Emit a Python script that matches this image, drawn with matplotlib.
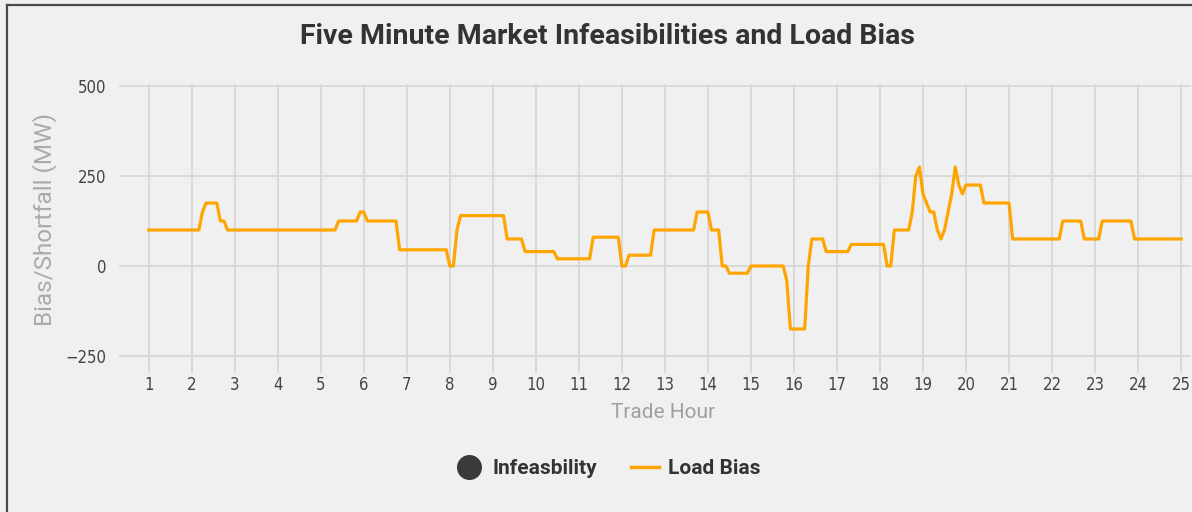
import matplotlib
matplotlib.use("Agg")
import matplotlib.pyplot as plt
from matplotlib.lines import Line2D

# Load bias vertices (trade hour, MW) at 5-minute steps
hours = [1.0, 2.167, 2.25, 2.333, 2.583, 2.667, 2.75, 2.833, 5.333, 5.417,
         5.833, 5.917, 6.0, 6.083, 6.75, 6.833, 7.917, 8.0, 8.083, 8.167,
         8.25, 9.25, 9.333, 9.667, 9.75, 10.417, 10.5, 11.25, 11.333, 11.917,
         12.0, 12.083, 12.167, 12.667, 12.75, 13.667, 13.75, 14.0, 14.083, 14.25,
         14.333, 14.417, 14.5, 14.917, 15.0, 15.75, 15.833, 15.917, 16.25, 16.333,
         16.417, 16.667, 16.75, 17.25, 17.333, 18.083, 18.167, 18.25, 18.333, 18.667,
         18.75, 18.833, 18.917, 19.0, 19.083, 19.167, 19.25, 19.333, 19.417, 19.5,
         19.583, 19.667, 19.75, 19.833, 19.917, 20.0, 20.333, 20.417, 21.0, 21.083,
         22.167, 22.25, 22.667, 22.75, 23.083, 23.167, 23.833, 23.917, 25.0]
load_bias = [100, 100, 150, 175, 175, 125, 125, 100, 100, 125,
             125, 150, 150, 125, 125, 45, 45, 0, 0, 100,
             140, 140, 75, 75, 40, 40, 20, 20, 80, 80,
             0, 0, 30, 30, 100, 100, 150, 150, 100, 100,
             0, 0, -20, -20, 0, 0, -40, -175, -175, 0,
             75, 75, 40, 40, 60, 60, 0, 0, 100, 100,
             150, 250, 275, 200, 175, 150, 150, 100, 75, 100,
             150, 200, 275, 225, 200, 225, 225, 175, 175, 75,
             75, 125, 125, 75, 75, 125, 125, 75, 75]

# no infeasibilities in this day
infeas_hours = []
infeas_values = []

x_ticks = list(range(1, 26))
y_ticks = [-250, 0, 250, 500]

W, H = 1192, 512
BG = "#f0f0f0"
GRID = "#d9d9d9"

fig = plt.figure(figsize=(W / 100, H / 100), dpi=100, facecolor=BG)
ax = fig.add_axes([119 / W, 1 - 357.8 / H, (1191 - 119) / W, (357.8 - 84.2) / H])
ax.set_facecolor(BG)

ax.plot(hours, load_bias, color="#ffa500", lw=2.3, solid_joinstyle="round", zorder=3)
ax.scatter(infeas_hours, infeas_values, color="#3a3a3a", s=80, zorder=4)

ax.set_xlim(0.31, 25.23)
ax.set_ylim(-255, 505)
ax.set_xticks(x_ticks)
ax.set_yticks(y_ticks)
ax.set_yticklabels(["\u2212250", "0", "250", "500"])
ax.grid(True, color=GRID, lw=1.4)
ax.set_axisbelow(True)
for s in ax.spines.values():
    s.set_visible(False)

ax.tick_params(axis="x", length=11, width=1.4, color=GRID, pad=2, labelcolor="#444444")
ax.tick_params(axis="y", length=0, pad=9, labelcolor="#444444")
for lab in ax.get_xticklabels() + ax.get_yticklabels():
    lab.set_fontfamily("DejaVu Sans")
    lab.set_fontstretch("condensed")
    lab.set_fontsize(12)

fig.text(607 / W, 1 - 37 / H, "Five Minute Market Infeasibilities and Load Bias",
         ha="center", va="center", fontsize=20.5, fontweight="bold",
         family="Roboto", color="#333333")
fig.text(45 / W, 1 - 220 / H, "Bias/Shortfall (MW)", rotation=90,
         ha="center", va="center", fontsize=17.5, family="Roboto", color="#aaaaaa")
fig.text(663 / W, 1 - 413 / H, "Trade Hour", ha="center", va="center",
         fontsize=15, family="Roboto", color="#a0a0a0")

handles = [
    Line2D([], [], marker="o", ls="none", color="#3a3a3a", markersize=17),
    Line2D([], [], color="#ffa500", lw=2.5),
]
leg = fig.legend(handles, ["Infeasbility", "Load Bias"], loc="center",
                 bbox_to_anchor=(608 / W, 1 - 469 / H), ncol=2, frameon=False,
                 handlelength=1.35, handletextpad=0.45, columnspacing=1.6,
                 prop=dict(family="Roboto", weight="bold", size=15))
for t in leg.get_texts():
    t.set_color("#333333")

# outer frame of the panel
fig.add_artist(Line2D([7 / W, 1], [1 - 5 / H, 1 - 5 / H], color="#4a4a4a", lw=1.6,
                      transform=fig.transFigure))
fig.add_artist(Line2D([7 / W, 7 / W], [0, 1 - 5 / H], color="#4a4a4a", lw=1.6,
                      transform=fig.transFigure))

fig.savefig("out.png", dpi=100, facecolor=BG)
